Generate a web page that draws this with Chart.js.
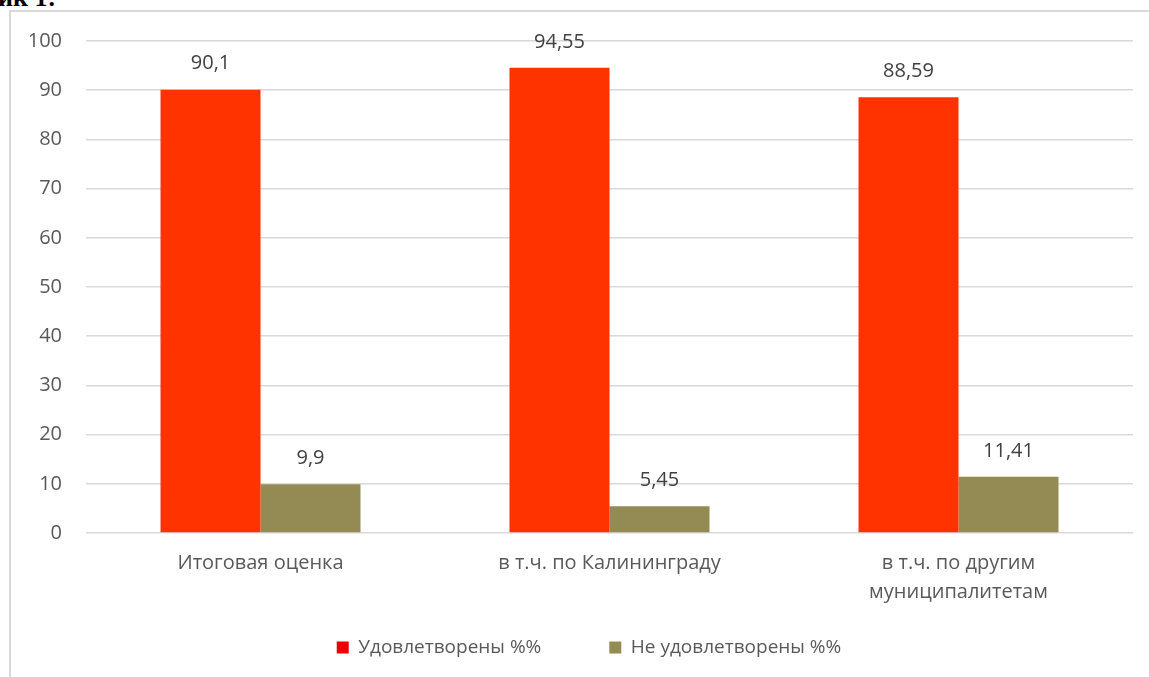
<!DOCTYPE html>
<html><head><meta charset="utf-8">
<script src="https://cdn.jsdelivr.net/npm/chart.js@4/dist/chart.umd.min.js"></script>
<style>
html,body{margin:0;padding:0;background:#fff;overflow:hidden;}
#cap{position:absolute;left:-2px;top:-17px;font:bold 26px "Liberation Serif",serif;color:#000;white-space:nowrap;}
#frame{position:absolute;left:9px;top:10px;width:1160px;height:700px;border-left:2px solid #d9d9d9;border-top:2px solid #d9d9d9;}
#wrap{position:absolute;left:11px;top:12px;width:1138px;height:665px;}
</style></head>
<body>
<div id="cap">ик 1:</div>
<div id="frame"></div>
<div id="wrap"><canvas id="c"></canvas></div>
<script>
const categories = ["Итоговая оценка", "в т.ч. по Калининграду", ["в т.ч. по другим", "муниципалитетам"]];
const seriesNames = ["Удовлетворены %%", "Не удовлетворены %%"];
const satisfied = [90.1, 94.55, 88.59];
const notSatisfied = [9.9, 5.45, 11.41];
const yTicks = [0,10,20,30,40,50,60,70,80,90,100];

const FONT = "'Open Sans', sans-serif";
const FS = 20;
const valueLabels = {
  id: 'valueLabels',
  afterDatasetsDraw(chart) {
    const ctx = chart.ctx;
    ctx.save();
    ctx.font = FS + "px " + FONT;
    ctx.fillStyle = "#404040";
    ctx.textAlign = "center";
    ctx.textBaseline = "middle";
    chart.data.datasets.forEach((ds, i) => {
      chart.getDatasetMeta(i).data.forEach((bar, j) => {
        ctx.fillText(String(ds.data[j]).replace('.', ','), bar.x, bar.y - 26);
      });
    });
    ctx.restore();
  }
};
const legendShift = {
  id: 'legendShift',
  afterLayout(chart) {
    if (chart.legend) { chart.legend.left += 17; chart.legend.right += 17; }
  }
};

new Chart(document.getElementById('c'), {
  type: 'bar',
  data: {
    labels: categories,
    datasets: [
      {label: seriesNames[0], data: satisfied, backgroundColor: '#FF3300'},
      {label: seriesNames[1], data: notSatisfied, backgroundColor: '#948A54'}
    ]
  },
  options: {
    responsive: true, maintainAspectRatio: false, animation: false,
    layout: {padding: {top: 29, right: 16, left: 0, bottom: 10}},
    datasets: {bar: {categoryPercentage: 0.573, barPercentage: 1.0}},
    scales: {
      x: {
        grid: {display: false},
        border: {display: false},
        ticks: {color: '#595959', font: {family: FONT, size: FS, lineHeight: 1.45}, padding: 8, maxRotation: 0},
        afterFit(s) { s.height = 75; }
      },
      y: {
        min: 0, max: 100,
        afterBuildTicks(s) { s.ticks = yTicks.map(v => ({value: v})); },
        grid: {color: '#d9d9d9', lineWidth: 1.5, drawTicks: false},
        border: {display: false},
        ticks: {color: '#595959', font: {family: FONT, size: FS}, padding: 24},
        afterFit(s) { s.width = 75; s.paddingTop = 0; s.paddingBottom = 0; }
      }
    },
    plugins: {
      tooltip: {enabled: false},
      legend: {
        position: 'bottom',
        labels: {
          color: '#595959', font: {family: FONT, size: 19},
          boxWidth: 12, boxHeight: 12, padding: 30,
          generateLabels(chart) {
            const cols = ['#EE0000', '#948A54'];
            return chart.data.datasets.map((d, i) => ({
              text: i === 0 ? d.label + '\u2003\u2003' : d.label, fillStyle: cols[i], strokeStyle: cols[i], lineWidth: 0,
              hidden: false, datasetIndex: i, fontColor: '#595959'
            }));
          }
        }
      }
    }
  },
  plugins: [valueLabels, legendShift]
});
</script>
</body></html>
